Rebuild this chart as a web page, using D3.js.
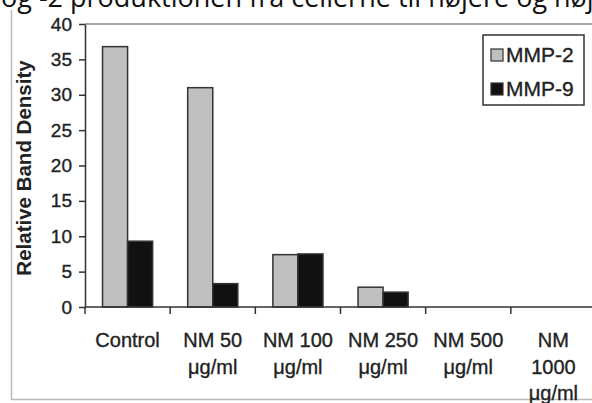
<!DOCTYPE html>
<html>
<head>
<meta charset="utf-8">
<script src="https://cdn.jsdelivr.net/npm/d3@7"></script>
<style>
  html, body { margin: 0; padding: 0; background: #fff; }
  svg { display: block; }
  .tick text { fill: #222; }
  .lbl { stroke: #222; stroke-width: 0.35px; }
</style>
</head>
<body>
<svg id="chart" width="592" height="403"></svg>
<script>
// data
const categories = ["Control", "NM 50", "NM 100", "NM 250", "NM 500", "NM 1000"];
const catLines = [["Control"], ["NM 50", "μg/ml"], ["NM 100", "μg/ml"], ["NM 250", "μg/ml"], ["NM 500", "μg/ml"], ["NM", "1000", "μg/ml"]];
const series = ["MMP-2", "MMP-9"];
const mmp2 = [36.8, 31.0, 7.4, 2.8, 0, 0];
const mmp9 = [9.3, 3.3, 7.5, 2.1, 0, 0];
const yTicks = [0, 5, 10, 15, 20, 25, 30, 35, 40];
const colors = { "MMP-2": "#c0c0c0", "MMP-9": "#111" };

const svg = d3.select("#chart");
const pLeft = 85, pRight = 596, pTop = 24, pBottom = 307;

// caption line cut off by the crop, as in the source image
svg.append("text")
  .attr("x", 1).attr("y", 7)
  .style("font-family", "'Open Sans', sans-serif")
  .style("font-size", "27px")
  .attr("fill", "#111")
  .text("og -2 produktionen fra cellerne til højere og højere");

// frame of the pasted figure
svg.append("path")
  .attr("d", "M11.5,10 V399.5 H592")
  .attr("fill", "none").attr("stroke", "#bbb").attr("stroke-width", 1.5);

const x = d3.scaleBand().domain(categories).range([pLeft, pRight]);
const xs = d3.scaleBand().domain(series).range([0, x.bandwidth()]).paddingOuter(0.7);
const y = d3.scaleLinear().domain([0, 40]).range([pBottom, pTop]);

// plot top border
svg.append("line")
  .attr("x1", pLeft).attr("x2", 592).attr("y1", pTop).attr("y2", pTop)
  .attr("stroke", "#888").attr("stroke-width", 1.5);

const rows = categories.map((c, i) => ({ c, vals: [mmp2[i], mmp9[i]] }));

const g = svg.append("g");
g.selectAll("g.grp")
  .data(rows)
  .join("g")
  .attr("class", "grp")
  .attr("transform", d => `translate(${x(d.c)},0)`)
  .selectAll("rect")
  .data(d => d.vals.map((v, j) => ({ s: series[j], v })).filter(d => d.v > 0))
  .join("rect")
  .attr("x", d => xs(d.s))
  .attr("width", xs.bandwidth())
  .attr("y", d => y(d.v))
  .attr("height", d => y(0) - y(d.v))
  .attr("fill", d => colors[d.s])
  .attr("stroke", "#333")
  .attr("stroke-width", 1.5);

// y axis
const yAxis = svg.append("g")
  .attr("transform", `translate(${pLeft},0)`)
  .call(d3.axisLeft(y).tickValues(yTicks).tickSize(6).tickPadding(7).tickSizeOuter(0));
yAxis.selectAll("text")
  .attr("class", "lbl")
  .style("font-family", "'Liberation Sans', Arial, sans-serif")
  .style("font-size", "19px");
yAxis.selectAll("path, line").attr("stroke", "#333").attr("stroke-width", 1.5);

// x axis: ticks at category boundaries
const xAxis = svg.append("g").attr("transform", `translate(0,${pBottom})`);
xAxis.append("line")
  .attr("x1", pLeft).attr("x2", pRight)
  .attr("stroke", "#333").attr("stroke-width", 1.5);
xAxis.selectAll("line.tk")
  .data(categories)
  .join("line")
  .attr("class", "tk")
  .attr("x1", d => x(d)).attr("x2", d => x(d))
  .attr("y1", 0).attr("y2", 7)
  .attr("stroke", "#333").attr("stroke-width", 1.5);
xAxis.selectAll("text")
  .data(categories)
  .join("text")
  .attr("class", "lbl")
  .attr("x", d => x(d) + x.bandwidth() / 2)
  .attr("y", 40)
  .attr("text-anchor", "middle")
  .attr("fill", "#222")
  .style("font-family", "'Liberation Sans', Arial, sans-serif")
  .style("font-size", "20px")
  .selectAll("tspan")
  .data((d, i) => catLines[i])
  .join("tspan")
  .attr("x", function () { return this.parentNode.getAttribute("x"); })
  .attr("dy", (d, i) => i === 0 ? 0 : 26.5)
  .text(d => d);

// y title
svg.append("text")
  .attr("transform", `translate(31,${(58 + 278) / 2}) rotate(-90)`)
  .attr("text-anchor", "middle")
  .attr("fill", "#222")
  .style("font-family", "'Liberation Sans', Arial, sans-serif")
  .style("font-size", "20.5px")
  .style("font-weight", "bold")
  .text("Relative Band Density");

// legend
const leg = svg.append("g").attr("transform", "translate(483,35)");
leg.append("rect")
  .attr("width", 101).attr("height", 70)
  .attr("fill", "#fff").attr("stroke", "#333").attr("stroke-width", 1.5);
const li = leg.selectAll("g.li")
  .data(series)
  .join("g")
  .attr("class", "li")
  .attr("transform", (d, i) => `translate(8,${14 + i * 34})`);
li.append("rect")
  .attr("width", 12).attr("height", 12)
  .attr("fill", d => colors[d]).attr("stroke", "#333").attr("stroke-width", 1.2);
li.append("text")
  .attr("class", "lbl")
  .attr("x", 15).attr("y", 12.5)
  .attr("fill", "#222")
  .style("font-family", "'Liberation Sans', Arial, sans-serif")
  .style("font-size", "21px")
  .text(d => d);
</script>
</body>
</html>
